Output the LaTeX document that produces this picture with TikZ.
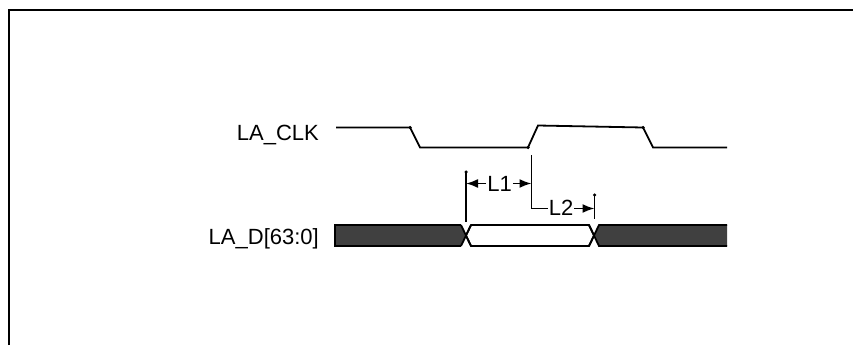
\documentclass[tikz,border=0pt]{standalone}
\usepackage{fontspec}
\setmainfont{Liberation Sans}
\usetikzlibrary{arrows.meta}
\begin{document}
\begin{tikzpicture}[x=1pt,y=-1pt,
  sig/.style={line width=1.8pt, line join=miter},
  lbl/.style={font=\fontsize{22}{26}\selectfont, inner sep=0pt},
  dimtxt/.style={font=\fontsize{22}{26}\selectfont, inner sep=1pt, fill=white},
  dimline/.style={line width=1.8pt},
  dimarrow/.style={line width=1.8pt, -{Latex[length=12pt,width=9pt]}},
  buswhite/.style={fill=white, draw=black, line width=1.8pt},
  knob/.style={fill=black, circle, inner sep=0pt, minimum size=3.5pt}]
\useasboundingbox (0,0) rectangle (853,345);
% frame
\draw[line width=2.2pt] (9,345) -- (9,10) -- (853,10);
% labels
\node[lbl, anchor=base east] (clklbl) at (319,140.5) {LA\_CLK};
\node[lbl, anchor=base east] (datalbl) at (319,244) {LA\_D[63:0]};
% clock waveform
\coordinate (c0) at (336,127.5);
\coordinate (c1) at (410,127.5);
\coordinate (c2) at (420,147.5);
\coordinate (c3) at (528,147.5);
\coordinate (c4) at (538,125.5);
\coordinate (c5) at (643,127.5);
\coordinate (c6) at (653,147.5);
\coordinate (c7) at (727,147.5);
\draw[sig] (c0) -- (c1) -- (c2) -- (c3) -- (c4) -- (c5) -- (c6) -- (c7);
\node[knob] (k1) at (c1) {};
\node[knob] (k3) at (c3) {};
\node[knob] (k5) at (c5) {};
% data bus
\fill[black!75] (335,225) -- (461,225) -- (466,235.5) -- (461,246) -- (335,246) -- cycle;
\draw[line width=1.8pt] (461,225) -- (335,225) -- (335,246) -- (461,246);
\draw[buswhite] (471,225) -- (589,225) -- (594,235.5) -- (589,246) -- (471,246) -- (466,235.5) -- cycle;
\draw[line width=1.8pt] (461,225) -- (471,246) (461,246) -- (471,225);
\fill[black!75] (727,225) -- (599,225) -- (594,235.5) -- (599,246) -- (727,246) -- cycle;
\draw[line width=1.8pt] (727,225) -- (599,225) -- (589,246) (727,246) -- (599,246) -- (589,225);
% timing markers
\coordinate (t1top) at (466,172);
\coordinate (t1bot) at (466,222);
\coordinate (t2top) at (531.5,155);
\coordinate (t2bot) at (531.5,208.5);
\coordinate (t3top) at (594.5,195);
\coordinate (t3bot) at (594.5,219);
\draw[dimline] (t1top) -- (t1bot);
\draw[dimline] (t2top) -- (t2bot);
\draw[dimline] (t3top) -- (t3bot);
\node[knob] (kt1) at (t1top) {};
\node[knob] (kt3) at (t3top) {};
% L1
\node[dimtxt, anchor=base] (L1) at (499.5,191.5) {L1};
\coordinate (a1l) at (466,183.5);
\coordinate (a1r) at (531.5,183.5);
\draw[dimarrow] (L1.west |- a1l) -- (a1l);
\draw[dimarrow] (L1.east |- a1r) -- (a1r);
% L2
\node[dimtxt, anchor=base] (L2) at (561,215.5) {L2};
\coordinate (a2l) at (531.5,208.5);
\coordinate (a2r) at (594.5,208.5);
\draw[dimline] (a2l) -- (L2.west |- a2l);
\draw[dimarrow] (L2.east |- a2r) -- (a2r);
\end{tikzpicture}
\end{document}
